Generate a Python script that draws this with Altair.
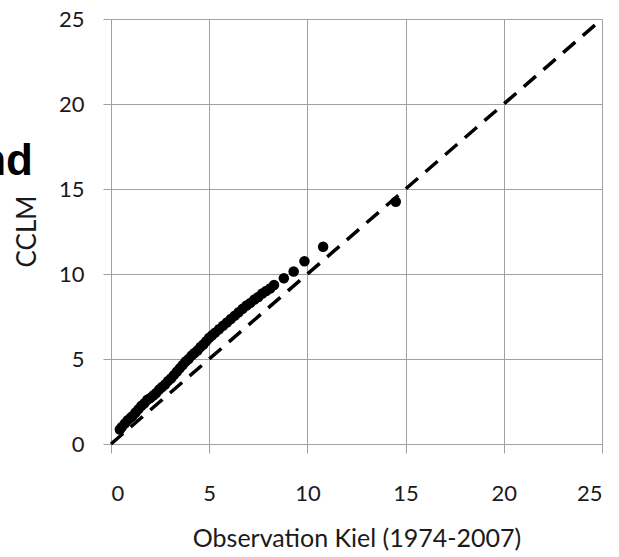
import altair as alt
import pandas as pd

# Observation (x) vs CCLM (y) quantile points
obs = [0.45, 0.55, 0.7, 0.85, 1.0, 1.1, 1.25, 1.4, 1.55, 1.7, 1.85, 2.0, 2.15, 2.3,
       2.45, 2.6, 2.75, 2.9, 3.05, 3.2, 3.35, 3.5, 3.65, 3.8, 3.95, 4.1, 4.25, 4.4,
       4.55, 4.7, 4.85, 5.0, 5.15, 5.3, 5.5, 5.7, 5.9, 6.1, 6.3, 6.5, 6.7, 6.9,
       7.1, 7.3, 7.5, 7.7, 7.9, 8.1, 8.3, 8.8, 9.3, 9.85, 10.8, 14.5]
cclm = [0.85, 1.0, 1.2, 1.4, 1.55, 1.65, 1.85, 2.05, 2.25, 2.4, 2.6, 2.7, 2.85, 3.0,
        3.2, 3.35, 3.5, 3.7, 3.85, 4.05, 4.25, 4.45, 4.65, 4.85, 5.0, 5.2, 5.35, 5.5,
        5.7, 5.85, 6.05, 6.25, 6.4, 6.55, 6.75, 6.95, 7.15, 7.35, 7.55, 7.75, 7.95, 8.15,
        8.3, 8.5, 8.65, 8.85, 9.0, 9.15, 9.35, 9.75, 10.15, 10.75, 11.6, 14.25]

line_x = [0, 25]
line_y = [0, 25]
ticks = [0, 5, 10, 15, 20, 25]

pts = pd.DataFrame({"obs": obs, "cclm": cclm})
ref = pd.DataFrame({"obs": line_x, "cclm": line_y})

font = "Lato"
grid = "#a0a0a0"
txt = "#1a1a1a"

xscale = alt.Scale(domain=[0, 25], nice=False, zero=False)
yscale = alt.Scale(domain=[0, 25], nice=False, zero=False)

xaxis = alt.Axis(values=ticks, title="Observation Kiel (1974-2007)", grid=True,
                 gridColor=grid, domainColor=grid, tickColor=grid, tickSize=9,
                 labelFont=font, labelFontSize=22, labelColor=txt,
                 labelBaseline="alphabetic", labelPadding=47,
                 titleFont=font, titleFontSize=25, titleFontWeight="normal",
                 titleColor=txt, titleBaseline="alphabetic", titleY=102)
yaxis = alt.Axis(values=ticks, title="CCLM", grid=True,
                 gridColor=grid, domainColor=grid, tickColor=grid, tickSize=8,
                 labelFont=font, labelFontSize=22, labelColor=txt, labelPadding=19,
                 titleFont=font, titleFontSize=26, titleFontWeight="normal",
                 titleColor=txt, titleBaseline="alphabetic", titleAngle=270,
                 titleX=-76, titleY=212)

base_x = alt.X("obs:Q", scale=xscale, axis=xaxis)
base_y = alt.Y("cclm:Q", scale=yscale, axis=yaxis)

line = alt.Chart(ref).mark_line(color="black", strokeWidth=3.5, strokeDash=[16, 10]).encode(
    x=base_x, y=base_y
)
points = alt.Chart(pts).mark_circle(color="black", opacity=1, size=110).encode(
    x=alt.X("obs:Q", scale=xscale), y=alt.Y("cclm:Q", scale=yscale)
)
label = alt.Chart(pd.DataFrame({"t": ["nd"]})).mark_text(
    font="Liberation Sans", fontSize=44, fontWeight="bold", color="black",
    align="right", baseline="alphabetic"
).encode(x=alt.value(-78), y=alt.value(156), text="t:N")

chart = alt.layer(line, points, label).properties(
    width=491, height=425,
    autosize=alt.AutoSizeParams(type="none"),
    padding={"left": 111, "top": 19, "right": 17, "bottom": 113},
).configure_view(stroke=None).configure(background="white")

chart.save("out.html", embed_options={"renderer": "svg", "actions": False})
